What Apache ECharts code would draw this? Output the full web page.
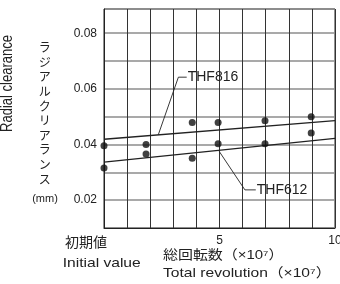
<!DOCTYPE html>
<html>
<head>
<meta charset="utf-8">
<script src="https://cdn.jsdelivr.net/npm/echarts@6/dist/echarts.min.js"></script>
<style>
  html, body { margin: 0; padding: 0; background: #fff; }
  #chart { width: 340px; height: 284px; }
</style>
</head>
<body>
<div id="chart"></div>
<script>
// 測定点（総回転数 ×10^7, ラジアルクリアランス mm）
var pointX = [0, 0, 1.82, 1.82, 3.82, 3.82, 4.94, 4.94, 6.97, 6.97, 8.97, 8.97];
var pointY = [0.0396, 0.0316, 0.0400, 0.0366, 0.0479, 0.0351, 0.0479, 0.0403, 0.0485, 0.0403, 0.0500, 0.0441];

// 近似直線（両端）
var lineX = [0, 10];
var thf816Y = [0.0419, 0.0486];
var thf612Y = [0.0337, 0.0422];

// 引出線
var lead816X = [2.35, 3.22, 3.58];
var lead816Y = [0.0435, 0.0642, 0.0642];
var lead612X = [4.99, 6.10, 6.57];
var lead612Y = [0.0375, 0.0237, 0.0237];

var xTickLabels = { 5: '5', 10: '10' };
var yTickLabels = [0.02, 0.04, 0.06, 0.08];

var FONT = "'Liberation Sans', Arial, 'Noto Sans', 'Noto Sans CJK JP', sans-serif";
var INK = '#222';

function zip(xs, ys) {
    var out = [];
    for (var i = 0; i < xs.length; i++) out.push([xs[i], ys[i]]);
    return out;
}
function leader(xs, ys, name) {
    return {
        type: 'line', data: zip(xs, ys),
        symbol: 'none', lineStyle: { color: INK, width: 0.9 }, z: 3,
        endLabel: { show: true, distance: 1, formatter: name,
                    color: INK, fontSize: 14, fontFamily: FONT }
    };
}

var myChart = echarts.init(document.getElementById('chart'));
var option = {
    animation: false,
    grid: {
        left: 104, top: 9, width: 231, height: 219,
        outerBoundsMode: 'none', containLabel: false,
        show: true, borderColor: INK, borderWidth: 1, backgroundColor: 'transparent'
    },
    xAxis: {
        type: 'value', min: 0, max: 10, interval: 1,
        axisLine: { lineStyle: { color: INK, width: 1 } },
        axisTick: { show: false },
        splitLine: { lineStyle: { color: '#333', width: 1 } },
        axisLabel: {
            margin: 7, color: INK, fontSize: 12, fontFamily: FONT,
            showMaxLabel: true, hideOverlap: false,
            formatter: function (v) { return xTickLabels[v] || ''; }
        }
    },
    yAxis: {
        type: 'value', min: 0.01, max: 0.0887, interval: 0.01,
        axisLine: { lineStyle: { color: INK, width: 1 } },
        axisTick: { show: false },
        splitLine: { lineStyle: { color: '#8c8c8c', width: 1.5 } },
        axisLabel: {
            margin: 7, color: INK, fontSize: 12, fontFamily: FONT,
            formatter: function (v) {
                for (var i = 0; i < yTickLabels.length; i++) {
                    if (Math.abs(v - yTickLabels[i]) < 1e-6) return yTickLabels[i].toFixed(2);
                }
                return '';
            }
        }
    },
    series: [
        {
            name: 'THF816', type: 'line', data: zip(lineX, thf816Y),
            symbol: 'none', lineStyle: { color: INK, width: 1.3 }, z: 3
        },
        {
            name: 'THF612', type: 'line', data: zip(lineX, thf612Y),
            symbol: 'none', lineStyle: { color: INK, width: 1.3 }, z: 3
        },
        leader(lead816X, lead816Y, 'THF816'),
        leader(lead612X, lead612Y, 'THF612'),
        {
            type: 'scatter', data: zip(pointX, pointY),
            symbol: 'circle', symbolSize: 7, itemStyle: { color: '#111' }, z: 4
        }
    ],
    graphic: [
        { type: 'text', x: 8, y: 83.5, rotation: Math.PI / 2, scaleY: 1.2,
          style: { text: 'Radial clearance', font: '13px ' + FONT, fill: INK,
                   textAlign: 'center', textVerticalAlign: 'middle' } },
        { type: 'text', x: 44.7, y: 41.5,
          style: { text: 'ラ\nジ\nア\nル\nク\nリ\nア\nラ\nン\nス', font: '12px ' + FONT,
                   lineHeight: 14.6, fill: INK, textAlign: 'center', textVerticalAlign: 'top' } },
        { type: 'text', x: 45, y: 199,
          style: { text: '(mm)', font: '11px ' + FONT, fill: INK,
                   textAlign: 'center', textVerticalAlign: 'middle' } },
        { type: 'text', x: 86, y: 243,
          style: { text: '初期値', font: '14px ' + FONT, fill: INK,
                   textAlign: 'center', textVerticalAlign: 'middle' } },
        { type: 'text', x: 101.7, y: 263, scaleX: 1.2,
          style: { text: 'Initial value', font: '13px ' + FONT, fill: INK,
                   textAlign: 'center', textVerticalAlign: 'middle' } },
        { type: 'text', x: 163, y: 255, scaleX: 1.15,
          style: { text: '総回転数（×10⁷）', font: '13px ' + FONT, fill: INK,
                   textAlign: 'left', textVerticalAlign: 'middle' } },
        { type: 'text', x: 163, y: 273, scaleX: 1.2,
          style: { text: 'Total revolution（×10⁷）', font: '13px ' + FONT, fill: INK,
                   textAlign: 'left', textVerticalAlign: 'middle' } }
    ]
};
myChart.setOption(option);
</script>
</body>
</html>
